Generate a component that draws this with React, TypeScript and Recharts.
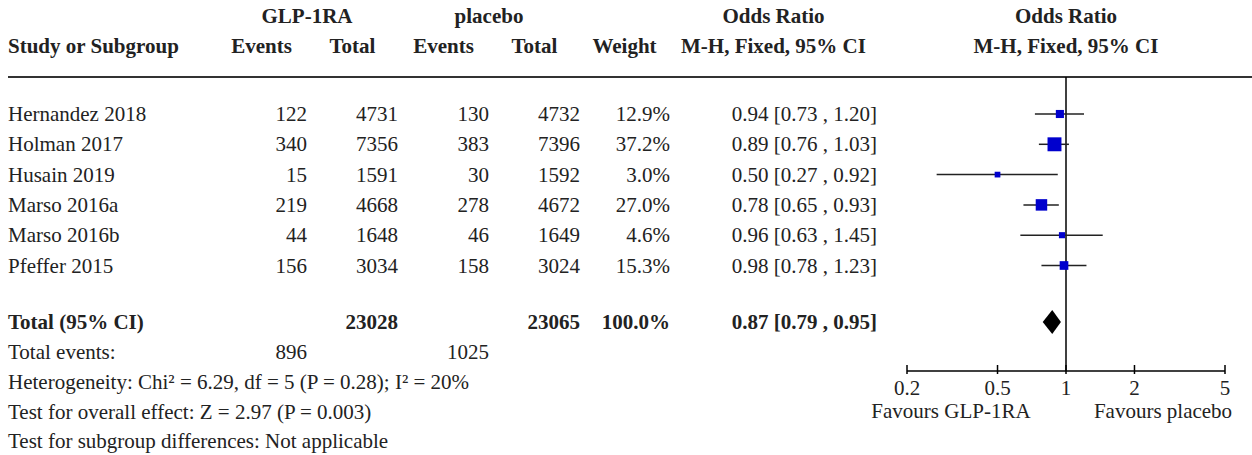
import React from "react";
import {
  ComposedChart,
  Scatter,
  XAxis,
  YAxis,
  ErrorBar,
  ReferenceLine,
  Customized,
} from "recharts";

// study rows
const studyNames = ["Hernandez 2018", "Holman 2017", "Husain 2019", "Marso 2016a", "Marso 2016b", "Pfeffer 2015"];
const glpEvents = [122, 340, 15, 219, 44, 156];
const glpTotal = [4731, 7356, 1591, 4668, 1648, 3034];
const pboEvents = [130, 383, 30, 278, 46, 158];
const pboTotal = [4732, 7396, 1592, 4672, 1649, 3024];
const weights = [12.9, 37.2, 3.0, 27.0, 4.6, 15.3];
const oddsRatio = [0.94, 0.89, 0.5, 0.78, 0.96, 0.98];
const ciLow = [0.73, 0.76, 0.27, 0.65, 0.63, 0.78];
const ciHigh = [1.2, 1.03, 0.92, 0.93, 1.45, 1.23];

// pooled
const totalOR = 0.87;
const totalLow = 0.79;
const totalHigh = 0.95;
const totalGlp = 23028;
const totalPbo = 23065;
const totalWeight = 100.0;
const eventsGlp = 896;
const eventsPbo = 1025;

const footNotes = [
  "Heterogeneity: Chi² = 6.29, df = 5 (P = 0.28); I² = 20%",
  "Test for overall effect: Z = 2.97 (P = 0.003)",
  "Test for subgroup differences: Not applicable",
];

const axisTicks = [0.2, 0.5, 1, 2, 5];

const FONT = "'Liberation Serif', 'Times New Roman', serif";
const INK = "#222";

// row positions in "row units" used by the y scale
const ROW_TOP = -1.221;
const ROW_BOTTOM = 8.482;
const TOTAL_ROW = 6.865;

const studyData = studyNames.map((name, i) => ({
  name,
  or: oddsRatio[i],
  row: i,
  weight: weights[i],
  err: [oddsRatio[i] - ciLow[i], ciHigh[i] - oddsRatio[i]],
}));

const totalData = [totalLow, totalOR, totalHigh].map((v) => ({ or: v, row: TOTAL_ROW }));

const fmt = (v: number) => v.toFixed(2);
const ciText = (o: number, l: number, h: number) => `${fmt(o)} [${fmt(l)} , ${fmt(h)}]`;

const WeightSquare = (props: any) => {
  const { cx, cy, payload } = props;
  const s = 5 + 0.24 * payload.weight;
  return <rect x={cx - s / 2} y={cy - s / 2} width={s} height={s} fill="#0000CD" />;
};

const Diamond = (props: any) => {
  const pts = props.points || [];
  if (pts.length < 3) return <g />;
  const [lo, mid, hi] = pts;
  const h = 12;
  const d = `${lo.x},${lo.y} ${mid.x},${mid.y - h} ${hi.x},${hi.y} ${mid.x},${mid.y + h}`;
  return <polygon points={d} fill="#000" />;
};

const AxisTick = (props: any) => {
  const { x, y, payload } = props;
  return (
    <g>
      <line x1={x} x2={x} y1={y - 6} y2={y + 3} stroke="#000" strokeWidth={1.5} />
      <text x={x} y={y + 24} textAnchor="middle" fontSize={21} fontFamily={FONT} fill={INK}>
        {payload.value}
      </text>
    </g>
  );
};

// text columns: right edges of numeric columns, headers centred on each column
const COL = { name: 8, ev1: 307, tot1: 398, ev2: 489, tot2: 580, wt: 670, ci: 877 };
const HALF = 45.5;
const rowBase = (i: number) => 121 + 30.3 * i;

const T = (p: { x: number; y: number; a?: "start" | "middle" | "end"; b?: boolean; children: any }) => (
  <text
    x={p.x}
    y={p.y}
    textAnchor={p.a || "start"}
    fontSize={21}
    fontWeight={p.b ? "bold" : "normal"}
    fontFamily={FONT}
    fill={INK}
  >
    {p.children}
  </text>
);

const TableText = () => (
  <g>
    <T x={COL.ev1} y={23} a="middle" b>GLP-1RA</T>
    <T x={COL.ev2} y={23} a="middle" b>placebo</T>
    <T x={(COL.wt + COL.ci) / 2} y={23} a="middle" b>Odds Ratio</T>
    <T x={1066} y={23} a="middle" b>Odds Ratio</T>

    <T x={COL.name} y={53} b>Study or Subgroup</T>
    <T x={COL.ev1 - HALF} y={53} a="middle" b>Events</T>
    <T x={COL.tot1 - HALF} y={53} a="middle" b>Total</T>
    <T x={COL.ev2 - HALF} y={53} a="middle" b>Events</T>
    <T x={COL.tot2 - HALF} y={53} a="middle" b>Total</T>
    <T x={COL.wt - HALF} y={53} a="middle" b>Weight</T>
    <T x={(COL.wt + COL.ci) / 2} y={53} a="middle" b>M-H, Fixed, 95% CI</T>
    <T x={1066} y={53} a="middle" b>M-H, Fixed, 95% CI</T>

    <line x1={8} x2={1252} y1={77} y2={77} stroke="#333" strokeWidth={2} />

    {studyNames.map((n, i) => (
      <g key={n}>
        <T x={COL.name} y={rowBase(i)}>{n}</T>
        <T x={COL.ev1} y={rowBase(i)} a="end">{glpEvents[i]}</T>
        <T x={COL.tot1} y={rowBase(i)} a="end">{glpTotal[i]}</T>
        <T x={COL.ev2} y={rowBase(i)} a="end">{pboEvents[i]}</T>
        <T x={COL.tot2} y={rowBase(i)} a="end">{pboTotal[i]}</T>
        <T x={COL.wt} y={rowBase(i)} a="end">{weights[i].toFixed(1)}%</T>
        <T x={COL.ci} y={rowBase(i)} a="end">{ciText(oddsRatio[i], ciLow[i], ciHigh[i])}</T>
      </g>
    ))}

    <T x={COL.name} y={329} b>Total (95% CI)</T>
    <T x={COL.tot1} y={329} a="end" b>{totalGlp}</T>
    <T x={COL.tot2} y={329} a="end" b>{totalPbo}</T>
    <T x={COL.wt} y={329} a="end" b>{totalWeight.toFixed(1)}%</T>
    <T x={COL.ci} y={329} a="end" b>{ciText(totalOR, totalLow, totalHigh)}</T>

    <T x={COL.name} y={359}>Total events:</T>
    <T x={COL.ev1} y={359} a="end">{eventsGlp}</T>
    <T x={COL.ev2} y={359} a="end">{eventsPbo}</T>

    {footNotes.map((f, i) => (
      <T key={f} x={COL.name} y={389 + 30 * i - (i === 2 ? 1 : 0)}>{f}</T>
    ))}

    <T x={951} y={418} a="middle">Favours GLP-1RA</T>
    <T x={1163} y={418} a="middle">Favours placebo</T>
  </g>
);

export default function App() {
  return (
    <div style={{ position: "absolute", left: 0, top: 0 }}>
      <ComposedChart width={1252} height={455} margin={{ top: 77, right: 27, bottom: 54, left: 907 }}>
        <XAxis
          type="number"
          dataKey="or"
          scale="log"
          domain={[0.2, 5]}
          ticks={axisTicks}
          interval={0}
          allowDataOverflow
          height={30}
          tickSize={0}
          tickMargin={0}
          tickLine={false}
          axisLine={{ stroke: "#000", strokeWidth: 1.5 }}
          tick={<AxisTick />}
        />
        <YAxis type="number" dataKey="row" domain={[ROW_TOP, ROW_BOTTOM]} reversed hide allowDataOverflow />
        <ReferenceLine x={1} stroke="#000" strokeWidth={1.5} />
        <Scatter data={studyData} shape={WeightSquare} isAnimationActive={false}>
          <ErrorBar dataKey="err" direction="x" width={0} stroke={INK} strokeWidth={1.5} />
        </Scatter>
        <Scatter
          data={totalData}
          line={Diamond}
          lineType="joint"
          shape={() => <g />}
          isAnimationActive={false}
        />
        <Customized component={<TableText />} />
      </ComposedChart>
    </div>
  );
}
